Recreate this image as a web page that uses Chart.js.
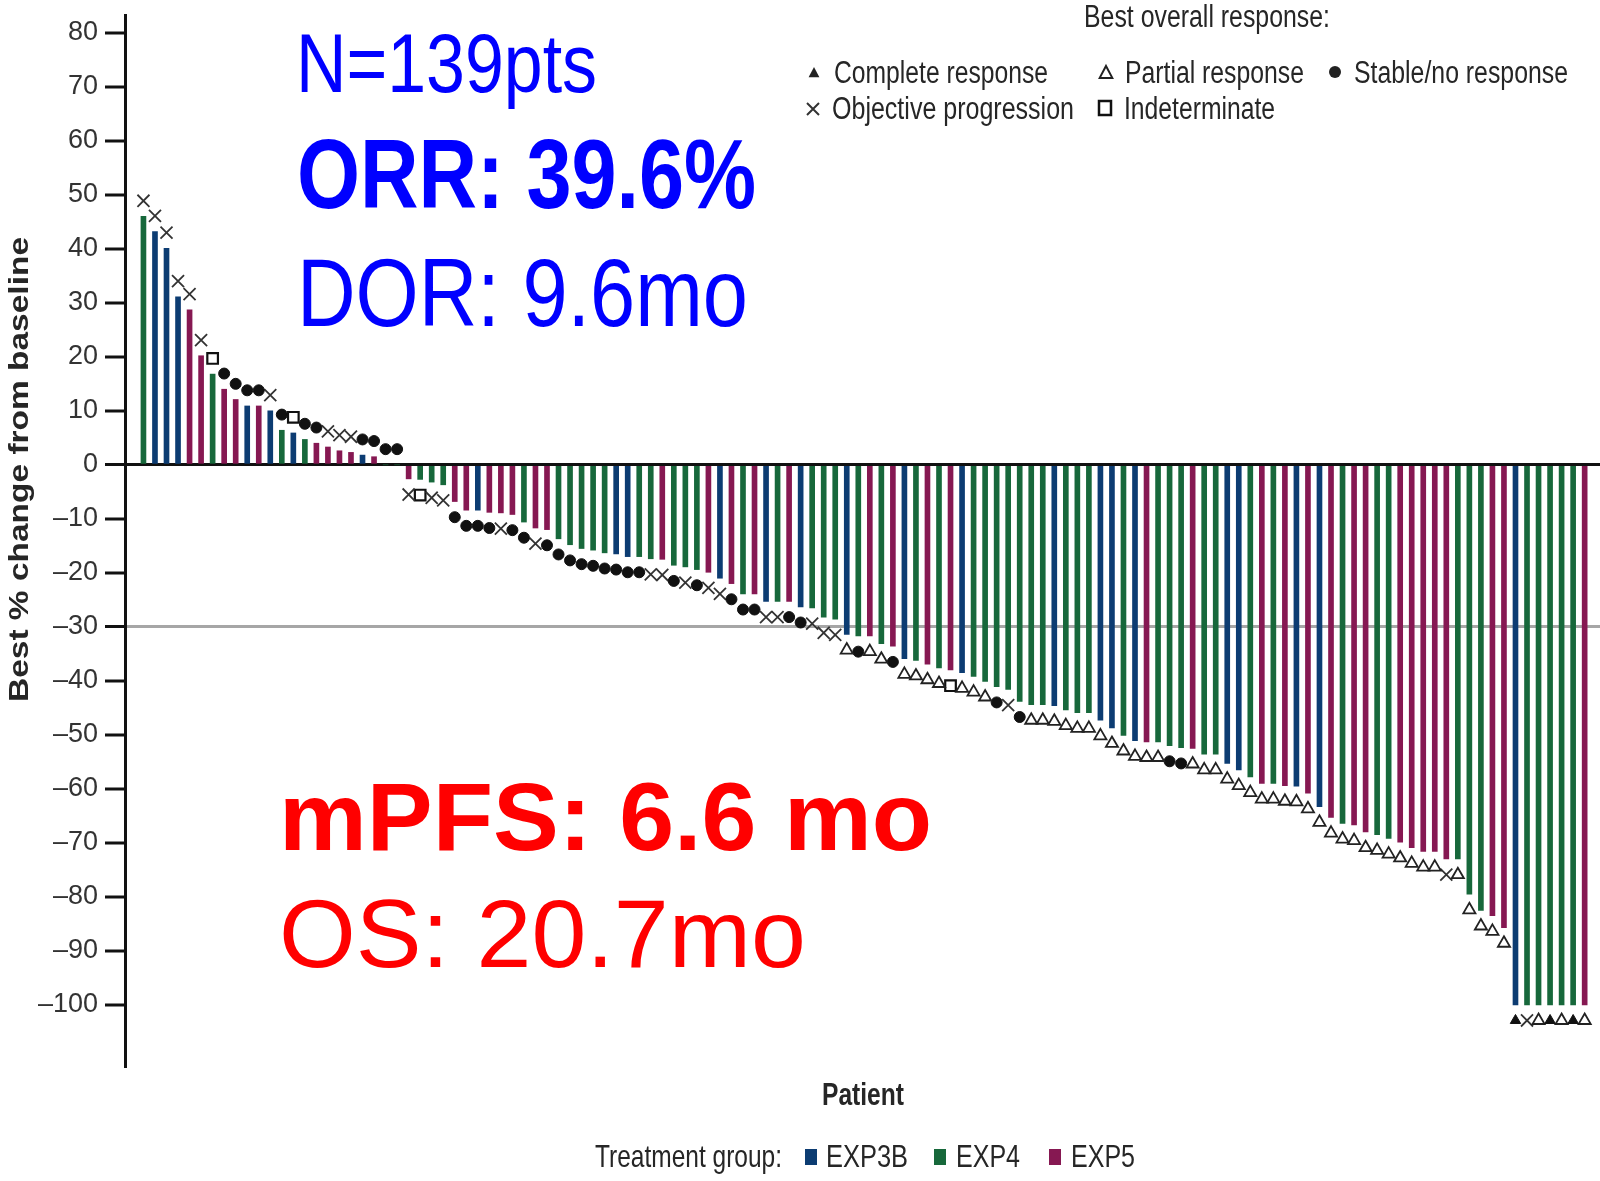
<!DOCTYPE html>
<html>
<head>
<meta charset="utf-8">
<script src="https://cdn.jsdelivr.net/npm/chart.js@4.4.1/dist/chart.umd.min.js"></script>
<style>
  html, body { margin: 0; padding: 0; background: #fff; overflow: hidden; }
  canvas { display: block; }
</style>
</head>
<body>
<canvas id="waterfall" width="1600" height="1181"></canvas>
<script>
// best % change from baseline, one entry per patient (sorted, as plotted)
const patientValues = [
  46.0, 43.2, 40.1, 31.1, 28.7, 20.2, 16.8, 14.0, 12.1, 10.9,
  10.9, 10.0, 6.4, 5.9, 4.7, 4.0, 3.3, 2.6, 2.3, 1.8,
  1.5, 0, 0, -2.6, -2.7, -3.2, -3.7, -6.8, -8.4, -8.4,
  -8.8, -8.9, -9.2, -10.6, -11.7, -12.0, -13.7, -14.8, -15.5, -15.8,
  -16.3, -16.5, -17.0, -17.0, -17.4, -17.5, -18.6, -18.9, -19.4, -19.9,
  -21.0, -22.0, -23.9, -23.9, -25.3, -25.3, -25.3, -26.3, -26.5, -28.2,
  -28.6, -31.4, -31.7, -31.7, -33.1, -33.6, -35.9, -36.2, -36.9, -37.6,
  -38.0, -38.5, -39.2, -40.1, -41.1, -41.6, -43.8, -44.4, -44.4, -44.6,
  -45.4, -45.9, -45.9, -47.3, -48.7, -50.1, -51.1, -51.3, -51.3, -52.0,
  -52.4, -52.5, -53.6, -53.6, -55.3, -56.5, -57.8, -59.0, -59.0, -59.4,
  -59.5, -60.8, -63.3, -65.3, -66.4, -66.7, -68.0, -68.5, -69.2, -69.9,
  -70.9, -71.6, -71.6, -73.0, -73.0, -79.5, -82.5, -83.5, -85.7, -100,
  -100, -100, -100, -100, -100, -100
];

// treatment group per patient: B = EXP3B, G = EXP4, P = EXP5
const patientGroups = (
  'GBBBPPGPPB' + 'PBGBGPPPPB' + 'PGGPGGGPPB' + 'PPPGPPGGGG' + 'GBBGGPGGGP' +
  'BPGPBGPBGG' + 'GBGPGPBGPG' + 'PBGGGGGGGB' + 'GGGBBGBPGG' + 'GPGGBBGPGP' +
  'BPBPGPPGGP' + 'PPPPGGGPPB' + 'GGGGGP'
).split('');

// best overall response per patient
// CR complete, PR partial, SD stable/no response, PD objective progression, NE indeterminate
const patientResponses = [
  'PD','PD','PD','PD','PD','PD','NE','SD','SD','SD',
  'SD','PD','SD','NE','SD','SD','PD','PD','PD','SD',
  'SD','SD','SD','PD','NE','PD','PD','SD','SD','SD',
  'SD','PD','SD','SD','PD','SD','SD','SD','SD','SD',
  'SD','SD','SD','SD','PD','PD','SD','PD','SD','PD',
  'PD','SD','SD','SD','PD','PD','SD','SD','PD','PD',
  'PD','PR','SD','PR','PR','SD','PR','PR','PR','PR',
  'NE','PR','PR','PR','SD','PD','SD','PR','PR','PR',
  'PR','PR','PR','PR','PR','PR','PR','PR','PR','SD',
  'SD','PR','PR','PR','PR','PR','PR','PR','PR','PR',
  'PR','PR','PR','PR','PR','PR','PR','PR','PR','PR',
  'PR','PR','PR','PD','PR','PR','PR','PR','PR','CR',
  'PD','PR','CR','PR','CR','PR'
];

const groupNames = { B: 'EXP3B', G: 'EXP4', P: 'EXP5' };
const responseNames = {
  CR: 'Complete response', PR: 'Partial response', SD: 'Stable/no response',
  PD: 'Objective progression', NE: 'Indeterminate'
};
const yTicks = [80, 70, 60, 50, 40, 30, 20, 10, 0, -10, -20, -30, -40, -50, -60, -70, -80, -90, -100];

// styling
const groupColors = { B: '#0c3c72', G: '#17683b', P: '#861852' };
const markerGap = 2.9; // % units between bar end and response symbol
const FONT = '"Liberation Sans", Arial, Helvetica, sans-serif';

const markerStyles = {
  CR: { pointStyle: 'triangle', pointRadius: 6, pointBackgroundColor: '#111', pointBorderColor: '#111', pointBorderWidth: 1 },
  PR: { pointStyle: 'triangle', pointRadius: 7, pointBackgroundColor: '#fff', pointBorderColor: '#222', pointBorderWidth: 1.8 },
  SD: { pointStyle: 'circle', pointRadius: 5.5, pointBackgroundColor: '#111', pointBorderColor: '#111', pointBorderWidth: 1 },
  PD: { pointStyle: 'crossRot', pointRadius: 8.5, pointBackgroundColor: '#333', pointBorderColor: '#333', pointBorderWidth: 1.8 },
  NE: { pointStyle: 'rect', pointRadius: 7.5, pointBackgroundColor: '#fff', pointBorderColor: '#111', pointBorderWidth: 2.2 }
};

function markerData(code) {
  const pts = [];
  patientResponses.forEach((r, i) => {
    if (r !== code) return;
    const v = patientValues[i];
    pts.push({ x: i, y: v >= 0 ? v + markerGap : v - markerGap });
  });
  return pts;
}

const markerSets = Object.keys(responseNames).map(code => Object.assign({
  type: 'scatter',
  label: responseNames[code],
  data: markerData(code),
  order: 0,
  clip: false
}, markerStyles[code]));

// text squeezed or stretched to the width it has in the source figure
function drawText(ctx, str, x, y, size, weight, color, width) {
  ctx.save();
  ctx.font = weight + ' ' + size + 'px ' + FONT;
  const w = ctx.measureText(str).width;
  ctx.translate(x, y);
  ctx.scale(width / w, 1);
  ctx.fillStyle = color;
  ctx.textBaseline = 'alphabetic';
  ctx.textAlign = 'left';
  ctx.fillText(str, 0, 0);
  ctx.restore();
}

function drawSymbol(ctx, code, x, y) {
  ctx.save();
  ctx.beginPath();
  if (code === 'CR' || code === 'PR') {
    const r = code === 'CR' ? 6 : 7;
    ctx.moveTo(x, y - r);
    ctx.lineTo(x + r * 0.9, y + r * 0.7);
    ctx.lineTo(x - r * 0.9, y + r * 0.7);
    ctx.closePath();
    if (code === 'CR') { ctx.fillStyle = '#222'; ctx.fill(); }
    else { ctx.lineWidth = 2; ctx.strokeStyle = '#222'; ctx.stroke(); }
  } else if (code === 'SD') {
    ctx.arc(x, y, 6, 0, Math.PI * 2);
    ctx.fillStyle = '#222';
    ctx.fill();
  } else if (code === 'PD') {
    ctx.moveTo(x - 6, y - 6); ctx.lineTo(x + 6, y + 6);
    ctx.moveTo(x + 6, y - 6); ctx.lineTo(x - 6, y + 6);
    ctx.lineWidth = 2; ctx.strokeStyle = '#333'; ctx.stroke();
  } else {
    ctx.rect(x - 6, y - 7, 12, 14);
    ctx.lineWidth = 2.5; ctx.strokeStyle = '#111'; ctx.stroke();
  }
  ctx.restore();
}

const textPlugin = {
  id: 'figureText',
  afterDraw(chart) {
    const ctx = chart.ctx;
    const ink = '#262626';

    // headline numbers
    drawText(ctx, 'N=139pts', 296, 92, 84, 'normal', '#0000ff', 301);
    drawText(ctx, 'ORR: 39.6%', 297, 208, 99, 'bold', '#0000ff', 459);
    drawText(ctx, 'DOR: 9.6mo', 297, 326, 97, 'normal', '#0000ff', 451);
    drawText(ctx, 'mPFS: 6.6 mo', 279, 850, 97, 'bold', '#ff0000', 653);
    drawText(ctx, 'OS: 20.7mo', 279, 967, 96, 'normal', '#ff0000', 527);

    // response legend
    drawText(ctx, 'Best overall response:', 1084, 27, 31, 'normal', ink, 246);
    drawSymbol(ctx, 'CR', 814, 73);
    drawText(ctx, responseNames.CR, 834, 83, 31, 'normal', ink, 214);
    drawSymbol(ctx, 'PR', 1106, 73);
    drawText(ctx, responseNames.PR, 1125, 83, 31, 'normal', ink, 179);
    drawSymbol(ctx, 'SD', 1335, 72);
    drawText(ctx, responseNames.SD, 1354, 83, 31, 'normal', ink, 214);
    drawSymbol(ctx, 'PD', 813, 109);
    drawText(ctx, responseNames.PD, 832, 119, 31, 'normal', ink, 242);
    drawSymbol(ctx, 'NE', 1105, 108);
    drawText(ctx, responseNames.NE, 1124, 119, 31, 'normal', ink, 151);

    // axis titles
    ctx.save();
    ctx.translate(28, 702);
    ctx.rotate(-Math.PI / 2);
    drawText(ctx, 'Best % change from baseline', 0, 0, 27, 'bold', ink, 465);
    ctx.restore();
    drawText(ctx, 'Patient', 822, 1105, 32, 'bold', ink, 82);

    // treatment group legend
    drawText(ctx, 'Treatment group:', 595, 1167, 32, 'normal', ink, 187);
    const swatches = [['B', 805, 826, 82], ['G', 934, 956, 64], ['P', 1049, 1071, 64]];
    swatches.forEach(([g, sx, tx, tw]) => {
      ctx.fillStyle = groupColors[g];
      ctx.fillRect(sx, 1149, 12, 16);
      drawText(ctx, groupNames[g], tx, 1167, 32, 'normal', ink, tw);
    });
  }
};

const ctx = document.getElementById('waterfall');
new Chart(ctx, {
  type: 'bar',
  data: {
    datasets: [
      {
        label: 'Best % change',
        data: patientValues.map((v, i) => ({ x: i, y: v })),
        backgroundColor: patientGroups.map(g => groupColors[g]),
        borderWidth: 0,
        barThickness: 5,
        order: 1
      },
      ...markerSets
    ]
  },
  options: {
    responsive: false,
    animation: false,
    events: [],
    layout: { autoPadding: false, padding: { top: 15, bottom: 113, left: 0, right: 0 } },
    plugins: {
      legend: { display: false },
      tooltip: { enabled: false }
    },
    scales: {
      x: {
        type: 'linear',
        min: -1.6,
        max: 126.33,
        offset: false,
        grid: { offset: false },
        display: false,
        afterFit: scale => { scale.paddingLeft = 0; scale.paddingRight = 0; }
      },
      y: {
        min: -111.7,
        max: 83.3,
        afterBuildTicks: scale => { scale.ticks = yTicks.map(v => ({ value: v })); },
        afterFit: scale => {
          scale.width = 125;
          scale.paddingTop = 0;
          scale.paddingBottom = 0;
        },
        ticks: {
          color: '#333',
          padding: 7,
          font: { size: 27, family: FONT },
          callback: v => (v < 0 ? '\u2013' + Math.abs(v) : String(v))
        },
        grid: {
          color: c => {
            const v = c.tick ? c.tick.value : null;
            if (v === 0) return '#111';
            if (v === -30) return '#a6a6a6';
            return 'rgba(0,0,0,0)';
          },
          lineWidth: c => {
            const v = c.tick ? c.tick.value : null;
            return v === 0 || v === -30 ? 3 : 0;
          },
          tickLength: 20,
          tickWidth: 3,
          tickColor: '#111'
        },
        border: { display: true, color: '#111', width: 3 }
      }
    }
  },
  plugins: [textPlugin]
});
</script>
</body>
</html>
